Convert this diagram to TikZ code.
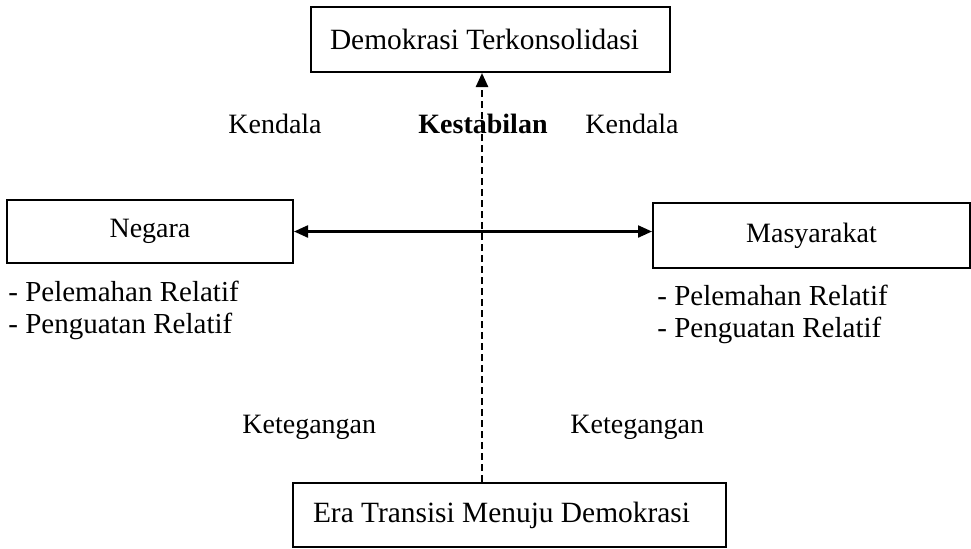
\documentclass[tikz,border=0pt]{standalone}
\usepackage{fontspec}
\setmainfont{Liberation Serif}
\usetikzlibrary{arrows.meta,positioning,calc}

\begin{document}
\begin{tikzpicture}[x=0.5pt,y=-0.5pt,>={Triangle[length=7pt,width=6pt]},font=\fontsize{14}{16}\selectfont,
 b/.style={draw,line width=1pt,inner sep=0pt,align=center},lb/.style={b,inner xsep=9.5pt,align=flush left,font=\fontsize{14.7}{16}\selectfont},lbl/.style={inner sep=0pt,anchor=base},lst/.style={inner sep=0pt,anchor=base west,font=\fontsize{14.5}{16}\selectfont},a/.style={<->,line width=1.1pt},d/.style={->,line width=1.2pt,dash pattern=on 3.5pt off 2pt}]
\useasboundingbox (0,0) rectangle (971,548);
\node[lb,text width=160.5pt,minimum height=32.5pt] (demo) at (490.5,39.5) {Demokrasi Terkonsolidasi};
\node[b,minimum width=143pt,minimum height=31.5pt] (neg) at (150,231.5) {Negara};
\node[b,minimum width=158.5pt,minimum height=32.5pt] (mas) at (811.5,235.5) {Masyarakat};
\node[lb,inner xsep=10pt,text width=196.5pt,minimum height=32pt] (era) at (509.5,515) {Era Transisi Menuju Demokrasi};
\coordinate (axis) at (482,300);
\draw[a] (neg.east)--(neg.east -| mas.west);
\draw[d] (axis |- era.north)--(axis |- demo.south);
\node[lbl] (kenL) at (275,133) {Kendala};
\node[lbl] (kenR) at (632,133) {Kendala};
\node[lbl,font=\fontsize{14}{16}\selectfont\bfseries] (stab) at (483,133) {Kestabilan};
\node[lst] (negA) at (8,301) {- Pelemahan Relatif};
\node[lst] (negB) at (8,333) {- Penguatan Relatif};
\node[lst] (masA) at (657,305) {- Pelemahan Relatif};
\node[lst] (masB) at (657,337) {- Penguatan Relatif};
\node[lst,font=\fontsize{14}{16}\selectfont] (tegL) at (242,433) {Ketegangan};
\node[lst,font=\fontsize{14}{16}\selectfont] (tegR) at (570,433) {Ketegangan};
\end{tikzpicture}
\end{document}
